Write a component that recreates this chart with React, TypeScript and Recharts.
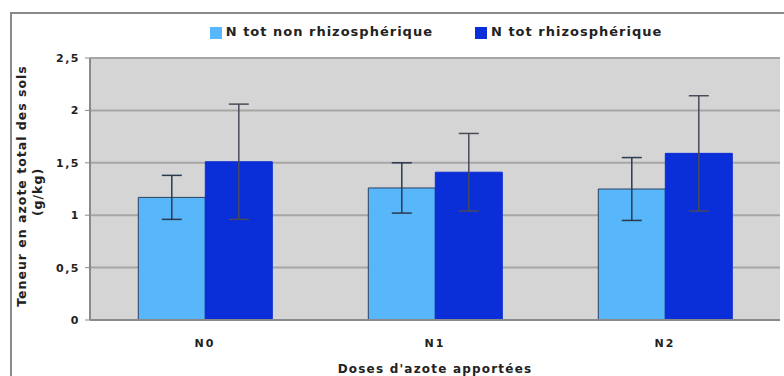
import { BarChart, Bar, XAxis, YAxis, CartesianGrid, Legend, ErrorBar, Label } from 'recharts'

const doses = ['N0', 'N1', 'N2']
const nonRhizo = [1.17, 1.26, 1.25]
const nonRhizoErr = [0.21, 0.24, 0.3]
const rhizo = [1.51, 1.41, 1.59]
const rhizoErr = [0.55, 0.37, 0.55]
const yTicks = [0, 0.5, 1, 1.5, 2, 2.5]

const data = doses.map((d, i) => ({
  dose: d,
  nonRhizo: nonRhizo[i],
  nonRhizoErr: nonRhizoErr[i],
  rhizo: rhizo[i],
  rhizoErr: rhizoErr[i],
}))

const font = '"DejaVu Sans", Verdana, sans-serif'

function YTitle({ viewBox }: { viewBox?: { x: number; y: number; width: number; height: number } }) {
  if (!viewBox) return null
  const cy = viewBox.y + viewBox.height / 2 - 3
  const x1 = 21
  const x2 = 37
  return (
    <g fontFamily={font} fontWeight="bold" fontSize={12.5} fill="#222" letterSpacing={1}>
      <text x={x1} y={cy} transform={`rotate(-90 ${x1} ${cy})`} textAnchor="middle" dominantBaseline="central">
        Teneur en azote total des sols
      </text>
      <text x={x2} y={cy + 6} transform={`rotate(-90 ${x2} ${cy + 6})`} textAnchor="middle" dominantBaseline="central">
        (g/kg)
      </text>
    </g>
  )
}

export default function App() {
  return (
    <div style={{ position: 'absolute', left: 0, top: 0, width: 784, height: 376, background: '#fff', overflow: 'hidden' }}>
      <div
        style={{
          position: 'absolute',
          left: 10,
          top: 12,
          width: 780,
          height: 370,
          borderTop: '2px solid #8a8a8a',
          borderLeft: '2px solid #8a8a8a',
        }}
      />
      <div style={{ position: 'absolute', left: 0, top: 0 }}>
        <BarChart
          width={784}
          height={376}
          data={data}
          margin={{ top: 43, right: 4, left: 30, bottom: 26 }}
          barCategoryGap="21%"
          barGap={0}
        >
          <CartesianGrid vertical={false} fill="#d5d5d5" stroke="#a6a6a6" strokeWidth={2} />
          <XAxis
            dataKey="dose"
            height={30}
            tickLine={false}
            tickSize={0}
            tickMargin={19}
            axisLine={{ stroke: '#8a8a8a', strokeWidth: 2 }}
            tick={{ fill: '#222', fontSize: 11, fontWeight: 'bold', fontFamily: font, letterSpacing: 2 }}
          >
            <Label
              value="Doses d'azote apportées"
              position="insideBottom"
              offset={-23}
              style={{ fill: '#222', fontSize: 12, fontWeight: 'bold', fontFamily: font, letterSpacing: 1.2 }}
            />
          </XAxis>
          <YAxis
            width={60}
            domain={[0, 2.5]}
            ticks={yTicks}
            interval={0}
            tickSize={5}
            tickMargin={5}
            tickLine={{ stroke: '#8a8a8a' }}
            axisLine={{ stroke: '#8a8a8a', strokeWidth: 2 }}
            tickFormatter={(v: number) => String(v).replace('.', ',')}
            tick={{ fill: '#222', fontSize: 11, fontWeight: 'bold', fontFamily: font, letterSpacing: 1.5 }}
          >
            <Label content={<YTitle />} />
          </YAxis>
          <Legend
            verticalAlign="top"
            align="center"
            iconType="square"
            iconSize={12}
            wrapperStyle={{ top: 24, left: 82, width: 750, fontFamily: font, fontSize: 13, fontWeight: 'bold', letterSpacing: 1 }}
            formatter={(value: string) => <span style={{ color: '#222', marginRight: 32 }}>{value}</span>}
          />
          <Bar dataKey="nonRhizo" name="N tot non rhizosphérique" fill="#58b6fa" stroke="#2a4060" strokeWidth={1} isAnimationActive={false}>
            <ErrorBar dataKey="nonRhizoErr" width={10} stroke="#2a3a50" strokeWidth={1.5} direction="y" />
          </Bar>
          <Bar dataKey="rhizo" name="N tot rhizosphérique" fill="#0a2ed8" stroke="#0a2ed8" strokeWidth={1} isAnimationActive={false}>
            <ErrorBar dataKey="rhizoErr" width={10} stroke="#4a4a5a" strokeWidth={1.5} direction="y" />
          </Bar>
        </BarChart>
      </div>
    </div>
  )
}
